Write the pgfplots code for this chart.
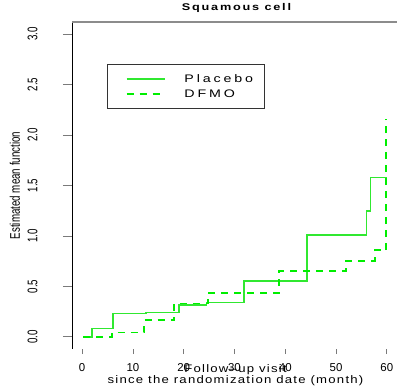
\documentclass[border=0pt]{standalone}
\usepackage{fontspec}
\setmainfont{Liberation Sans}
\usepackage{graphicx}
\usepackage{pgfplots}
\pgfplotsset{compat=1.18}
\definecolor{plgreen}{HTML}{30E830}
\definecolor{dfgreen}{HTML}{00EE00}
\definecolor{tickgray}{HTML}{7A7A7A}
\begin{document}
\begin{tikzpicture}
\useasboundingbox (-72bp,-39bp) rectangle (325bp,349bp);
\begin{axis}[
  at={(0,0)}, anchor=south west,
  scale only axis, width=325bp, height=327bp,
  xmin=-2, xmax=62, ymin=-0.12, ymax=3.12,
  axis line style={draw=none},
  xtick={0,10,...,60}, ytick={0,0.5,...,3},
  tick align=outside, tick pos=left,
  major tick length=9bp,
  xtick style={tickgray, line width=0.8bp, /pgfplots/major tick length=5bp},
  ytick style={tickgray, line width=0.8bp},
  /pgf/number format/assume math mode=true,
  xticklabel style={font=\fontsize{11.5}{12}\selectfont, anchor=base, inner sep=0pt, yshift=-13bp},
  yticklabel style={xshift=-25.5bp, rotate=90, anchor=base, inner sep=0pt},
  yticklabel={\scalebox{0.7}[1]{\fontsize{14}{14}\selectfont\pgfmathprintnumber[fixed,fixed zerofill,precision=1]{\tick}}},
  title={\scalebox{1.3}[1]{Squamous cell}},
  title style={at={(axis description cs:0.5,1)}, anchor=base, yshift=5.5bp, xshift=2bp, inner sep=0pt,
    font=\fontsize{9.8}{11}\selectfont\bfseries\addfontfeatures{LetterSpace=14}},
  xlabel={\scalebox{1.2}[1]{Follow–up visit}\\\scalebox{1.2}[1]{since the randomization date (month)}},
  xlabel style={at={(axis description cs:0.5,0)}, anchor=north, yshift=-15bp, xshift=1bp, align=center, inner sep=0pt,
    font=\fontsize{11}{11}\selectfont\addfontfeatures{LetterSpace=9.5}},
  ylabel={\scalebox{0.7}[1]{Estimated mean function}},
  ylabel style={at={(axis description cs:-0.1754,0.5)}, anchor=center, inner sep=0pt,
    font=\fontsize{14}{14}\selectfont},
  legend style={at={(rel axis cs:0.1086,0.8716)}, anchor=north west, draw=black!80, line width=0.8bp,
    inner xsep=11.7bp, inner ysep=10.3bp,
    font=\fontsize{11}{12}\selectfont\addfontfeatures{LetterSpace=20},
    nodes={inner sep=0pt, text height=8bp, text depth=0bp},
    row sep=7.2bp,
    /tikz/every odd column/.append style={column sep=19bp}},
  legend cell align=left,
  legend image code/.code={\path (0bp,0bp); \draw[#1] (6.3bp,0bp) -- (44.3bp,0bp);},
]
\addplot[const plot, plgreen, line width=1.8bp] coordinates {
  (0.2,0) (2,0.083) (6.1,0.232) (12.5,0.242) (19.1,0.314) (24.5,0.34)
  (31.8,0.551) (44.2,1.01) (56,1.25) (56.8,1.58) (60,1.58)
};
\addlegendentry{\scalebox{1.3}[1]{Placebo}}
\addplot[const plot, dfgreen, line width=1.8bp, dash pattern=on 7bp off 6bp] coordinates {
  (0.2,0) (5.9,0.044) (12.2,0.165) (18.1,0.33) (24.8,0.435) (38.8,0.653)
  (52,0.75) (57.6,0.858) (59.9,2.16)
};
\addlegendentry{\scalebox{1.3}[1]{DFMO}}
\draw[black, line width=0.9bp] (rel axis cs:0,1) -- (rel axis cs:0,0) -- (rel axis cs:1,0);
\draw[black!45, line width=1.2bp] (rel axis cs:0,1) -- (rel axis cs:1,1);
\end{axis}
\end{tikzpicture}
\end{document}
